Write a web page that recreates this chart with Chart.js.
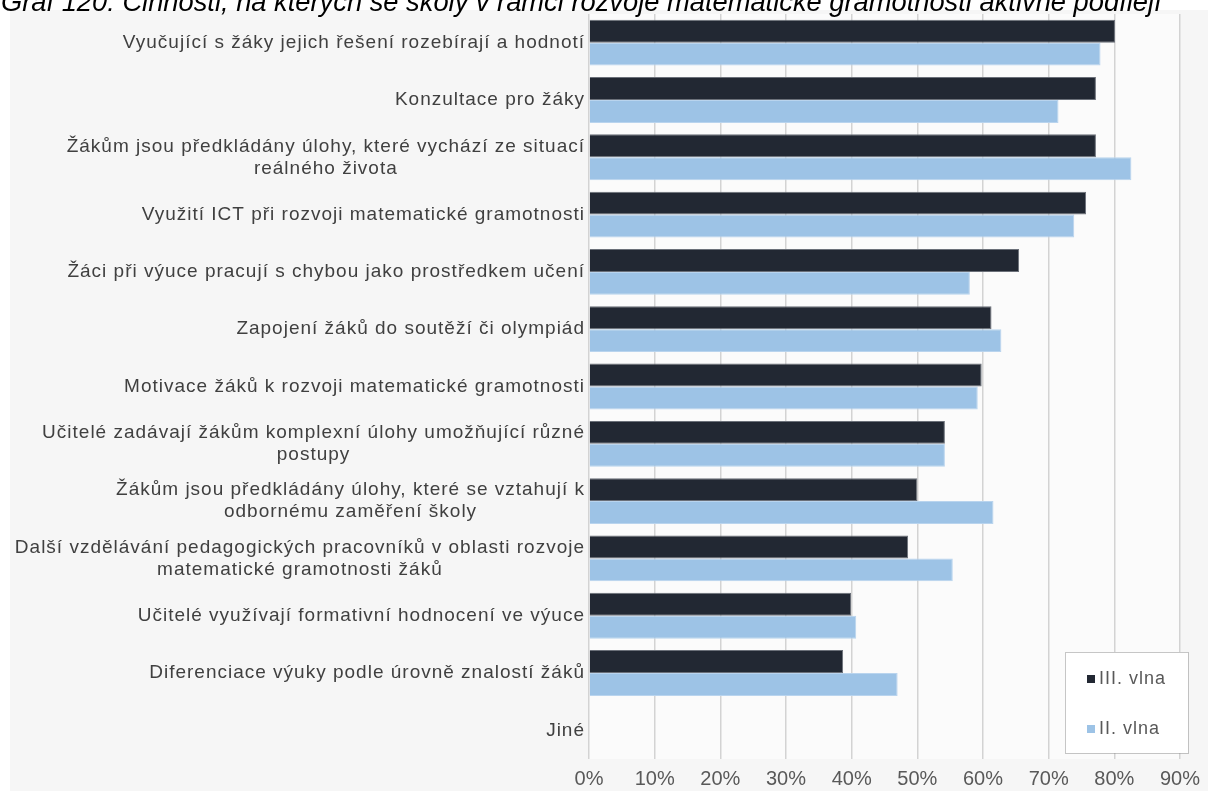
<!DOCTYPE html>
<html>
<head>
<meta charset="utf-8">
<script src="https://cdn.jsdelivr.net/npm/chart.js@4/dist/chart.umd.min.js"></script>
<style>
  html, body { margin: 0; padding: 0; background: #ffffff; }
  #wrap { position: relative; width: 1208px; height: 791px; overflow: hidden; }
</style>
</head>
<body>
<div id="wrap"><canvas id="grafCinnosti" width="1208" height="791"></canvas></div>
<script>
const titulek = 'Graf 120: Činnosti, na kterých se školy v rámci rozvoje matematické gramotnosti aktivně podílejí'

const kategorie = [
    'Vyučující s žáky jejich řešení rozebírají a hodnotí',
    'Konzultace pro žáky',
    ['Žákům jsou předkládány úlohy, které vychází ze situací', 'reálného života'],
    'Využití ICT při rozvoji matematické gramotnosti',
    'Žáci při výuce pracují s chybou jako prostředkem učení',
    'Zapojení žáků do soutěží či olympiád',
    'Motivace žáků k rozvoji matematické gramotnosti',
    ['Učitelé zadávají žákům komplexní úlohy umožňující různé', 'postupy'],
    ['Žákům jsou předkládány úlohy, které se vztahují k', 'odbornému zaměření školy'],
    ['Další vzdělávání pedagogických pracovníků v oblasti rozvoje', 'matematické gramotnosti žáků'],
    'Učitelé využívají formativní hodnocení ve výuce',
    'Diferenciace výuky podle úrovně znalostí žáků',
    'Jiné'
]

const vlna3 = [80.1, 77.2, 77.2, 75.7, 65.5, 61.3, 59.8, 54.2, 50.0, 48.6, 39.9, 38.7, 0]
const vlna2 = [77.9, 71.5, 82.6, 73.9, 58.0, 62.8, 59.2, 54.2, 61.6, 55.4, 40.7, 47.0, 0]

const popiskyOsy = ['0%', '10%', '20%', '30%', '40%', '50%', '60%', '70%', '80%', '90%']

const pismo = '"Liberation Sans", Arial, sans-serif'

// pozadi, popisky kategorii, titulek a legenda v ramecku
const kresleni = {
    id: 'kresleni',
    beforeDraw(chart) {
        const ctx = chart.ctx
        const a = chart.chartArea
        ctx.save()
        ctx.fillStyle = '#ffffff'
        ctx.fillRect(0, 0, chart.width, chart.height)
        ctx.fillStyle = '#f6f6f6'
        ctx.fillRect(10, 10, chart.width - 10, chart.height - 10)
        ctx.fillStyle = '#fbfbfb'
        ctx.fillRect(a.left, a.top, a.right - a.left, a.bottom - a.top)
        ctx.restore()
    },
    afterDraw(chart) {
        const ctx = chart.ctx
        const osaY = chart.scales.y
        ctx.save()

        // titulek (nahore oriznuty)
        ctx.fillStyle = '#000000'
        ctx.textAlign = 'left'
        ctx.textBaseline = 'alphabetic'
        ctx.font = 'italic 22px ' + pismo
        const sirka = ctx.measureText(titulek).width
        const vel = 22 * 1160 / sirka
        ctx.font = 'italic ' + vel.toFixed(1) + 'px ' + pismo
        ctx.fillText(titulek, 1, 11)

        // popisky kategorii - blok zarovnany doprava, radky na stred
        ctx.font = '19px ' + pismo
        ctx.letterSpacing = '1px'
        ctx.fillStyle = '#404040'
        ctx.textBaseline = 'middle'
        ctx.textAlign = 'center'
        const prava = chart.chartArea.left - 4
        kategorie.forEach((lbl, i) => {
            const radky = Array.isArray(lbl) ? lbl : [lbl]
            let maxW = 0
            radky.forEach(r => { maxW = Math.max(maxW, ctx.measureText(r).width) })
            const stred = osaY.getPixelForValue(i)
            const x = prava - maxW / 2
            const y0 = stred - (radky.length - 1) * 11
            radky.forEach((r, j) => ctx.fillText(r, x, y0 + j * 22))
        })

        // legenda
        const lx = 1065, ly = 652, lw = 123, lh = 101
        ctx.fillStyle = '#ffffff'
        ctx.fillRect(lx, ly, lw, lh)
        ctx.strokeStyle = '#8c8c8c'
        ctx.lineWidth = 1
        ctx.setLineDash([1, 1])
        ctx.strokeRect(lx + 0.5, ly + 0.5, lw, lh)
        ctx.setLineDash([])
        ctx.font = '18px ' + pismo
        ctx.textAlign = 'left'
        const polozky = [chart.data.datasets[0], chart.data.datasets[1]]
        const ys = [679, 729]
        polozky.forEach((ds, i) => {
            ctx.fillStyle = ds.backgroundColor
            ctx.fillRect(1087, ys[i] - 4, 8, 8)
            ctx.fillStyle = '#595959'
            ctx.fillText(ds.label, 1099, ys[i])
        })
        ctx.restore()
    }
}

new Chart(document.getElementById('grafCinnosti'), {
    type: 'bar',
    data: {
        labels: kategorie,
        datasets: [
            {
                label: 'III. vlna',
                data: vlna3,
                backgroundColor: '#222833',
                borderColor: '#6b7079',
                borderWidth: 1,
                categoryPercentage: 0.8,
                barPercentage: 1.0
            },
            {
                label: 'II. vlna',
                data: vlna2,
                backgroundColor: '#9dc3e6',
                borderColor: '#b9d4ee',
                borderWidth: 1,
                categoryPercentage: 0.8,
                barPercentage: 1.0
            }
        ]
    },
    options: {
        indexAxis: 'y',
        responsive: false,
        animation: false,
        layout: {
            padding: { left: 589, right: 26, top: 14, bottom: -8 }
        },
        plugins: {
            legend: { display: false },
            title: { display: false },
            tooltip: { enabled: false }
        },
        scales: {
            x: {
                min: 0,
                max: 90,
                border: { display: false },
                grid: { color: '#d3d3d3', lineWidth: 1.5, drawTicks: false },
                ticks: {
                    stepSize: 10,
                    padding: 8,
                    color: '#595959',
                    font: { family: pismo, size: 20 },
                    callback: (v, i) => popiskyOsy[i]
                }
            },
            y: {
                display: false
            }
        }
    },
    plugins: [kresleni]
})
</script>
</body>
</html>
